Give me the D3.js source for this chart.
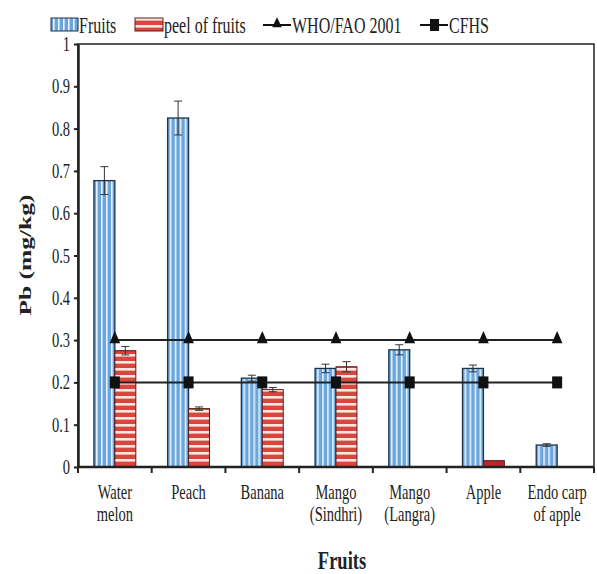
<!DOCTYPE html>
<html>
<head>
<meta charset="utf-8">
<script src="https://cdn.jsdelivr.net/npm/d3@7"></script>
<style>
  body { margin: 0; background: #fff; }
  text { font-family: "Liberation Serif", "Times New Roman", serif; fill: #222; }
</style>
</head>
<body>
<div id="chart"></div>
<script>
// chart values
const categories = ["Water melon", "Peach", "Banana", "Mango (Sindhri)", "Mango (Langra)", "Apple", "Endo carp of apple"];
const catLines = [["Water", "melon"], ["Peach"], ["Banana"], ["Mango", "(Sindhri)"], ["Mango", "(Langra)"], ["Apple"], ["Endo carp", "of apple"]];
const fruits = [0.677, 0.825, 0.21, 0.233, 0.277, 0.233, 0.052];
const fruitsErr = [0.033, 0.04, 0.007, 0.01, 0.012, 0.008, 0.003];
const peel = [0.275, 0.138, 0.183, 0.237, 0, 0.015, 0];
const peelErr = [0.01, 0.004, 0.005, 0.012, 0, 0, 0];
const whoFao = [0.3, 0.3, 0.3, 0.3, 0.3, 0.3, 0.3];
const cfhs = [0.2, 0.2, 0.2, 0.2, 0.2, 0.2, 0.2];
const yTicks = [0, 0.1, 0.2, 0.3, 0.4, 0.5, 0.6, 0.7, 0.8, 0.9, 1];

const W = 597, H = 574;
const pLeft = 78, pRight = 594, pTop = 44, pBottom = 467;
const SY = 1.4; // text in the picture is stretched tall

const svg = d3.select("#chart").append("svg")
  .attr("width", W).attr("height", H);

// patterns
const defs = svg.append("defs");
const pf = defs.append("pattern").attr("id", "pFruit")
  .attr("patternUnits", "userSpaceOnUse").attr("width", 5).attr("height", 10);
pf.append("rect").attr("width", 5).attr("height", 10).attr("fill", "#6aa5dc");
pf.append("rect").attr("x", 3).attr("width", 1.6).attr("height", 10).attr("fill", "#e8f3fd");
const pp = defs.append("pattern").attr("id", "pPeel")
  .attr("patternUnits", "userSpaceOnUse").attr("width", 10).attr("height", 7);
pp.append("rect").attr("width", 10).attr("height", 7).attr("fill", "#d9463e");
pp.append("rect").attr("y", 4).attr("width", 10).attr("height", 2.6).attr("fill", "#fde8e4");

// stretched text helper
function stext(g, x, y, str, size, opts) {
  opts = opts || {};
  return g.append("text")
    .attr("transform", `translate(${x},${y})${opts.rotate ? " rotate(" + opts.rotate + ")" : ""} scale(${opts.sx || 1},${opts.sy || SY})`)
    .attr("text-anchor", opts.anchor || "start")
    .attr("dy", "0.35em")
    .attr("font-size", size)
    .attr("font-weight", opts.bold ? "bold" : "normal")
    .text(str);
}

const x0 = d3.scaleBand().domain(categories).range([pLeft, pRight]).padding(0);
const x1 = d3.scaleBand().domain(["fruits", "peel"]).range([0, x0.bandwidth()])
  .paddingInner(0).paddingOuter(0.76);
const y = d3.scaleLinear().domain([0, 1]).range([pBottom, pTop]);

// frame
svg.append("rect").attr("x", pLeft).attr("y", pTop)
  .attr("width", pRight - pLeft).attr("height", pBottom - pTop)
  .attr("fill", "none").attr("stroke", "#222").attr("stroke-width", 1.5);

// bars
const rows = categories.map((c, i) => ({c: c, f: fruits[i], fe: fruitsErr[i], p: peel[i], pe: peelErr[i]}));
const grp = svg.append("g").selectAll("g").data(rows).join("g")
  .attr("transform", d => `translate(${x0(d.c)},0)`);

grp.append("rect")
  .attr("x", x1("fruits")).attr("width", x1.bandwidth())
  .attr("y", d => y(d.f)).attr("height", d => y(0) - y(d.f))
  .attr("fill", "url(#pFruit)").attr("stroke", "#1f3247").attr("stroke-width", 1.3);

grp.filter(d => d.p > 0).append("rect")
  .attr("x", x1("peel")).attr("width", x1.bandwidth())
  .attr("y", d => y(d.p)).attr("height", d => y(0) - y(d.p))
  .attr("fill", d => (y(0) - y(d.p)) < 10 ? "#b8282a" : "url(#pPeel)")
  .attr("stroke", "#5a1a1a").attr("stroke-width", 1);

// error bars
function errBar(sel, key, v, e) {
  const cx = x1(key) + x1.bandwidth() / 2;
  const g = sel.filter(d => d[e] > 0).append("g").attr("stroke", "#333").attr("stroke-width", 1);
  g.append("line").attr("x1", cx).attr("x2", cx)
    .attr("y1", d => y(d[v] - d[e])).attr("y2", d => y(d[v] + d[e]));
  g.append("line").attr("x1", cx - 4).attr("x2", cx + 4)
    .attr("y1", d => y(d[v] + d[e])).attr("y2", d => y(d[v] + d[e]));
  g.append("line").attr("x1", cx - 4).attr("x2", cx + 4)
    .attr("y1", d => y(d[v] - d[e])).attr("y2", d => y(d[v] - d[e]));
}
errBar(grp, "fruits", "f", "fe");
errBar(grp, "peel", "p", "pe");

// reference lines
const cx = c => x0(c) + x0.bandwidth() / 2;
const line = d3.line().x(d => cx(d.c)).y(d => y(d.v));
const whoPts = categories.map((c, i) => ({c: c, v: whoFao[i]}));
const cfPts = categories.map((c, i) => ({c: c, v: cfhs[i]}));
svg.append("path").datum(whoPts).attr("d", line)
  .attr("fill", "none").attr("stroke", "#222").attr("stroke-width", 2);
svg.append("path").datum(cfPts).attr("d", line)
  .attr("fill", "none").attr("stroke", "#222").attr("stroke-width", 2);
svg.append("g").selectAll("path").data(whoPts).join("path")
  .attr("d", d3.symbol(d3.symbolTriangle, 50))
  .attr("transform", d => `translate(${cx(d.c)},${y(d.v) - 1}) scale(1,1.3)`)
  .attr("fill", "#111");
svg.append("g").selectAll("rect").data(cfPts).join("rect")
  .attr("x", d => cx(d.c) - 5).attr("y", d => y(d.v) - 6)
  .attr("width", 10).attr("height", 12).attr("fill", "#111");

// y axis
const yAxis = svg.append("g").attr("transform", `translate(${pLeft},0)`)
  .call(d3.axisLeft(y).tickValues(yTicks).tickFormat(d => d === 0 ? "0" : d === 1 ? "1" : d3.format(".1f")(d))
    .tickSize(4).tickSizeOuter(0));
yAxis.select(".domain").attr("stroke", "#222").attr("stroke-width", 2.5);
yAxis.selectAll(".tick line").attr("stroke", "#222").attr("stroke-width", 2);
yAxis.selectAll(".tick text")
  .attr("font-family", "Liberation Serif, serif").attr("font-size", 14.5).attr("fill", "#222")
  .attr("x", -8).attr("transform", `scale(1,${SY})`);

// x axis ticks at category boundaries
const bounds = categories.map(c => x0(c)).concat([pRight]);
svg.append("line").attr("x1", pLeft).attr("x2", pRight).attr("y1", pBottom).attr("y2", pBottom)
  .attr("stroke", "#222").attr("stroke-width", 2.5);
svg.append("g").selectAll("line").data(bounds).join("line")
  .attr("x1", d => d).attr("x2", d => d).attr("y1", pBottom).attr("y2", pBottom + 6)
  .attr("stroke", "#222").attr("stroke-width", 2);

// x labels
const xl = svg.append("g");
categories.forEach((c, i) => {
  catLines[i].forEach((t, j) => {
    stext(xl, cx(c), 492 + j * 22, t, 14.5, {anchor: "middle"});
  });
});

// axis titles
stext(svg, 342, 560, "Fruits", 18.5, {anchor: "middle", bold: true});
stext(svg, 25, 255, "Pb (mg/kg)", 17, {anchor: "middle", bold: true, rotate: -90, sx: 1.5, sy: 1});

// legend
const lg = svg.append("g");
lg.append("rect").attr("x", 51).attr("y", 18).attr("width", 27).attr("height", 13)
  .attr("fill", "url(#pFruit)").attr("stroke", "#1f3247");
stext(lg, 79, 25, "Fruits", 16);
lg.append("rect").attr("x", 135).attr("y", 18).attr("width", 28).attr("height", 13)
  .attr("fill", "url(#pPeel)").attr("stroke", "#5a1a1a");
stext(lg, 164, 25, "peel of fruits", 16);
lg.append("line").attr("x1", 263).attr("x2", 291).attr("y1", 25).attr("y2", 25)
  .attr("stroke", "#111").attr("stroke-width", 2);
lg.append("path").attr("d", d3.symbol(d3.symbolTriangle, 40))
  .attr("transform", "translate(277,24) scale(1,1.2)").attr("fill", "#111");
stext(lg, 292, 25, "WHO/FAO 2001", 16);
lg.append("line").attr("x1", 420).attr("x2", 448).attr("y1", 25).attr("y2", 25)
  .attr("stroke", "#111").attr("stroke-width", 2);
lg.append("rect").attr("x", 430).attr("y", 19).attr("width", 9).attr("height", 12).attr("fill", "#111");
stext(lg, 449, 25, "CFHS", 16);
</script>
</body>
</html>
